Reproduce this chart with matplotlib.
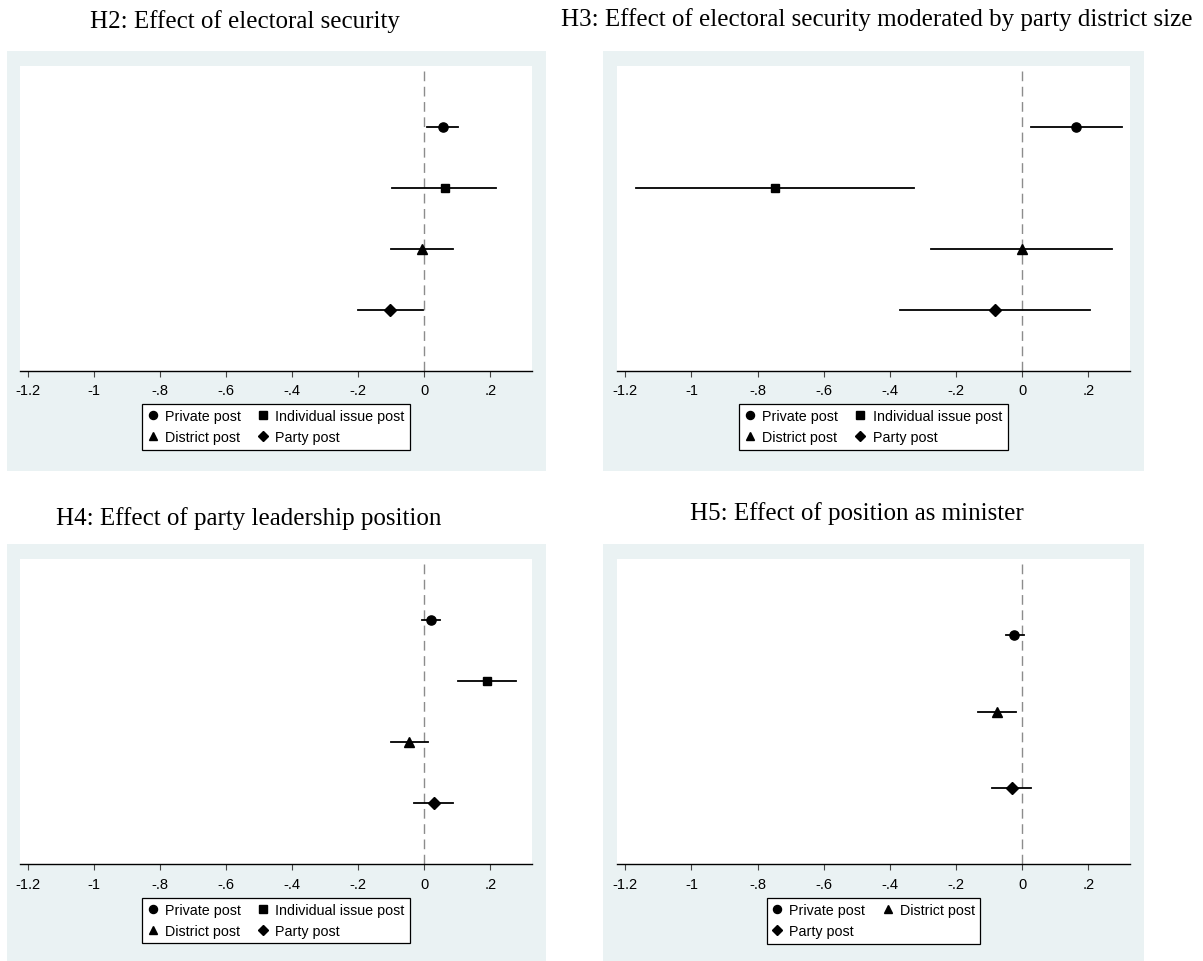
import matplotlib
matplotlib.use("Agg")
import matplotlib.pyplot as plt
from matplotlib.patches import Rectangle
from matplotlib.lines import Line2D

# coefficient estimates and 95% CIs
labels4 = ['Private post', 'Individual issue post', 'District post', 'Party post']
markers4 = ['o', 's', '^', 'D']

h2_est = [0.055, 0.061, -0.007, -0.104]
h2_lo = [0.008, -0.098, -0.101, -0.201]
h2_hi = [0.102, 0.218, 0.088, -0.004]

h3_est = [0.164, -0.747, -0.002, -0.082]
h3_lo = [0.028, -1.167, -0.276, -0.368]
h3_hi = [0.301, -0.327, 0.272, 0.204]

h4_est = [0.021, 0.191, -0.046, 0.028]
h4_lo = [-0.006, 0.103, -0.102, -0.032]
h4_hi = [0.048, 0.279, 0.011, 0.088]

labels3 = ['Private post', 'District post', 'Party post']
markers3 = ['o', '^', 'D']
h5_est = [-0.024, -0.075, -0.032]
h5_lo = [-0.050, -0.133, -0.090]
h5_hi = [0.006, -0.020, 0.027]

xticks = [-1.2, -1.0, -0.8, -0.6, -0.4, -0.2, 0.0, 0.2]
xticklabels = ['-1.2', '-1', '-.8', '-.6', '-.4', '-.2', '0', '.2']

W, H = 1203, 962
BG = '#eaf2f3'
plt.rcParams['font.family'] = ['Liberation Sans', 'DejaVu Sans']

fig = plt.figure(figsize=(W / 100, H / 100), dpi=100)

msize = {'o': 6.6, 's': 6.2, '^': 6.6, 'D': 6.2}
lsize = {'o': 5.8, 's': 5.3, '^': 5.8, 'D': 5.3}


def box(x0, y0, x1, y1):
    # pixel box (top-left origin) -> figure fraction rect
    return [x0 / W, 1 - y1 / H, (x1 - x0) / W, (y1 - y0) / H]


def panel(gray, plot, title, tx, ty, est, lo, hi, labels, markers, leg_top):
    g = box(*gray)
    fig.add_artist(Rectangle((g[0], g[1]), g[2], g[3], transform=fig.transFigure,
                             facecolor=BG, edgecolor='none', zorder=0))
    ax = fig.add_axes(box(*plot))
    ax.set_facecolor('white')
    n = len(est)
    ys = list(range(1, n + 1))
    ax.axvline(0, color='#8c8c8c', lw=1.0, dashes=(7, 4), zorder=1)
    handles = []
    for y, e, l, h, m, lab in zip(ys, est, lo, hi, markers, labels):
        ax.plot([l, h], [y, y], color='black', lw=1.3, zorder=2)
        ax.plot([e], [y], marker=m, color='black', ms=msize[m], ls='none', zorder=3)
        handles.append(Line2D([], [], marker=m, color='black', ls='none',
                              ms=lsize[m], label=lab))
    ax.set_ylim(n + 1, 0)
    ax.set_xlim(-1.225, 0.326)
    ax.set_yticks([])
    for s in ['left', 'right', 'top']:
        ax.spines[s].set_visible(False)
    ax.spines['bottom'].set_linewidth(1.0)
    ax.set_xticks(xticks)
    ax.set_xticklabels(xticklabels)
    ax.tick_params(axis='x', length=4, width=0.8, color='#444444', labelsize=10.5, pad=5)

    # legend: fill rows the Stata way (matplotlib fills column-first)
    if n == 4:
        order = [0, 2, 1, 3]
    else:
        order = [0, 2, 1]
    hs = [handles[i] for i in order]
    cx = (plot[0] + plot[2]) / 2
    leg = fig.legend(handles=hs, labels=[h.get_label() for h in hs],
                     loc='upper center', bbox_to_anchor=(cx / W, 1 - leg_top / H),
                     bbox_transform=fig.transFigure, ncol=2, fontsize=10.3,
                     frameon=True, fancybox=False, edgecolor='black', framealpha=1,
                     handlelength=0.7, handletextpad=0.5, columnspacing=1.2,
                     borderpad=0.4, labelspacing=0.45, borderaxespad=0)
    leg.get_frame().set_linewidth(0.9)

    fig.text(tx / W, 1 - ty / H, title, ha='center', va='baseline',
             family=['Liberation Serif', 'DejaVu Serif'], fontsize=18)
    return ax


panel((7, 52, 546, 472), (20, 67, 532, 371.7),
      'H2: Effect of electoral security', 245, 28,
      h2_est, h2_lo, h2_hi, labels4, markers4, 404.7)
panel((603, 52, 1144, 472), (617, 67, 1130, 371.7),
      'H3: Effect of electoral security moderated by party district size', 877, 26,
      h3_est, h3_lo, h3_hi, labels4, markers4, 404.7)
panel((7, 545, 546, 962), (20, 560, 532, 865.3),
      'H4: Effect of party leadership position', 249, 525,
      h4_est, h4_lo, h4_hi, labels4, markers4, 898.5)
panel((603, 545, 1144, 962), (617, 560, 1130, 865.3),
      'H5: Effect of position as minister', 857, 520,
      h5_est, h5_lo, h5_hi, labels3, markers3, 898.7)

fig.savefig('out.png', dpi=100, facecolor='white')
